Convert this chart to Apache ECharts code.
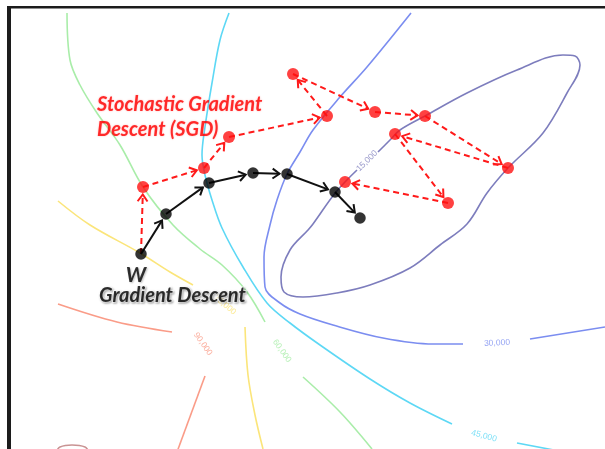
<!DOCTYPE html>
<html><head><meta charset="utf-8">
<script src="https://cdn.jsdelivr.net/npm/echarts@6/dist/echarts.min.js"></script>
<style>html,body{margin:0;padding:0;background:#fff}#c{width:605px;height:449px}</style>
</head><body><div id="c"></div>
<script>
// ---- data (x right, y down) ----
const contour15 = [[378,152],[390,140],[400,130],[425,116],[467,93],[517,70],[563,55],[575,56],[580,65],[567,93],[543,133],[508,168],[487,193],[467,224],[440,245],[410,268],[370,285],[337,293],[303,297],[284,292],[281,277],[290,250],[308,230],[313,224],[336,192],[357,170]];
const contour30a = [[411,13],[367,67],[340,97],[313,130],[300,152],[287,174],[277,200],[270,225],[264,257],[265,287],[280,303],[300,314],[333,325],[383,338],[433,344],[463,344]];
const contour30b = [[530,339],[605,327]];
const contour45a = [[229,13],[220,40],[212,83],[205,127],[202,155],[205,175],[212,200],[222,228],[243,267],[267,303],[290,323],[320,345],[370,379],[410,403],[452,424]];
const contour45b = [[517,443],[580,455]];
const contour60a = [[67,13],[70,60],[80,85],[97,113],[120,145],[143,187],[173,225],[200,249],[222,265],[247,292],[265,322]];
const contour60b = [[303,377],[340,412],[372,449]];
const contour75a = [[58,201],[90,225],[140,253],[170,272],[193,285]];
const contour75b = [[245,327],[248,375],[255,415],[263,449]];
const contour90a = [[58,304],[117,322],[172,332]];
const contour90b = [[205,376],[177,452]];
const contour105 = [[56,452],[60,447],[72,445],[85,447],[89,452]];
const contourLabelText = ['15,000','30,000','45,000','60,000','75,000','90,000'];
const contourLabelPos = [[367,161],[497,343],[484,436],[282,351],[225,305],[203,344]];
const gdStart = [141,254];
const gdPts = [[166,214],[209,183],[253,173],[287,174],[335,192],[360,218]];
const sgdPts = [[143,187],[204,168],[229,137],[327,116],[293,74],[375,112],[425,116],[508,168],[395,134],[448,203],[345,182]];
const sgdTitle = 'Stochastic Gradient\nDescent (SGD)';
const sgdTitlePos = [97,117];
const gdTitle = 'Gradient Descent';
const gdTitlePos = [99,296];
const wLabel = 'W';
const wLabelPos = [136,275];

// ---- styles ----
const contourColors = {c15:'#7d7dbd', c30:'#7b8df0', c45:'#5dd8f5', c60:'#a9eda9', c75:'#fbe57a', c90:'#fa9c88', c105:'#c99393'};
const labelRot = [45, 3, -15, -55, -40, -55];
const labelColors = [contourColors.c15, contourColors.c30, contourColors.c45, contourColors.c60, contourColors.c75, contourColors.c90];

function segs(start, pts){
  const all=[start].concat(pts), out=[];
  for(let i=0;i<all.length-1;i++) out.push([all[i][0],all[i][1],all[i+1][0],all[i+1][1]]);
  return out;
}
function contour(data, color){
  return {type:'line', data:data, smooth:0.35, showSymbol:false, silent:true, z:1,
    lineStyle:{color:color, width:1.6}, itemStyle:{color:color}};
}
function arrowRender(color, dash){
  return function(params, api){
    const a=api.coord([api.value(0),api.value(1)]), b=api.coord([api.value(2),api.value(3)]);
    const dx=b[0]-a[0], dy=b[1]-a[1], L=Math.hypot(dx,dy), ux=dx/L, uy=dy/L;
    const tip=[b[0]-ux*7.5, b[1]-uy*7.5], ang=0.62, len=8.5;
    const arm=function(s){const c=Math.cos(s*ang), sn=Math.sin(s*ang);
      return [tip[0]-(ux*c-uy*sn)*len, tip[1]-(ux*sn+uy*c)*len];};
    return {type:'group', children:[
      {type:'line', shape:{x1:a[0],y1:a[1],x2:tip[0],y2:tip[1]}, style:{stroke:color,lineWidth:2,lineDash:dash}},
      {type:'polyline', shape:{points:[arm(1),tip,arm(-1)]}, style:{stroke:color,lineWidth:2,fill:null}}
    ]};
  };
}
const labelData = contourLabelPos.map(function(p,i){
  return {value:p, label:{formatter:contourLabelText[i], rotate:labelRot[i], color:labelColors[i]}};
});
const textBase = {show:true, position:'inside', fontFamily:'Lato', fontWeight:'bold', fontStyle:'italic', align:'left', verticalAlign:'middle'};

const chart = echarts.init(document.getElementById('c'), null, {renderer:'canvas'});
chart.setOption({
  animation:false,
  backgroundColor:'#ffffff',
  grid:{left:0,right:0,top:0,bottom:0},
  xAxis:{type:'value', min:0, max:605, show:false},
  yAxis:{type:'value', min:0, max:449, inverse:true, show:false},
  graphic:[
    {type:'rect', shape:{x:7,y:6,width:598,height:2.5}, style:{fill:'#1c1c1c'}, z:100},
    {type:'rect', shape:{x:7,y:6,width:4,height:443}, style:{fill:'#1c1c1c'}, z:100}
  ],
  series:[
    contour(contour15, contourColors.c15),
    contour(contour30a, contourColors.c30), contour(contour30b, contourColors.c30),
    contour(contour45a, contourColors.c45), contour(contour45b, contourColors.c45),
    contour(contour60a, contourColors.c60), contour(contour60b, contourColors.c60),
    contour(contour75a, contourColors.c75), contour(contour75b, contourColors.c75),
    contour(contour90a, contourColors.c90), contour(contour90b, contourColors.c90),
    contour(contour105, contourColors.c105),
    {type:'scatter', data:labelData, symbolSize:0, z:2, silent:true,
      label:{show:true, position:'inside', fontSize:8.5, fontFamily:'Liberation Sans', align:'center', verticalAlign:'middle'}},
    {type:'custom', data:segs(gdStart, sgdPts), renderItem:arrowRender('#ff1a1a',[6,4]), encode:{x:[0,2],y:[1,3]}, z:3, silent:true},
    {type:'custom', data:segs(gdStart, gdPts), renderItem:arrowRender('#111111',null), encode:{x:[0,2],y:[1,3]}, z:4, silent:true},
    {type:'scatter', data:sgdPts, symbolSize:12, itemStyle:{color:'#ff1111'}, z:5, silent:true},
    {type:'scatter', data:[gdStart].concat(gdPts), symbolSize:11.5, itemStyle:{color:'#000000'}, z:6, silent:true},
    {type:'scatter', data:[sgdTitlePos], symbolSize:0, z:7, silent:true,
      label:Object.assign({}, textBase, {formatter:sgdTitle, fontSize:20, lineHeight:25, color:'#ff0000',
        textShadowColor:'rgba(255,0,0,0.35)', textShadowBlur:2})},
    {type:'scatter', data:[gdTitlePos], symbolSize:0, z:7, silent:true,
      label:Object.assign({}, textBase, {formatter:gdTitle, fontSize:20, color:'#000000',
        textBorderColor:'rgba(255,255,255,0.9)', textBorderWidth:2,
        textShadowColor:'rgba(0,0,0,0.3)', textShadowBlur:2, textShadowOffsetX:1, textShadowOffsetY:1})},
    {type:'scatter', data:[wLabelPos], symbolSize:0, z:7, silent:true,
      label:Object.assign({}, textBase, {formatter:wLabel, fontSize:21, align:'center', color:'#000000',
        textShadowColor:'rgba(0,0,0,0.3)', textShadowBlur:2, textShadowOffsetX:1, textShadowOffsetY:1})}
  ]
});
</script></body></html>
